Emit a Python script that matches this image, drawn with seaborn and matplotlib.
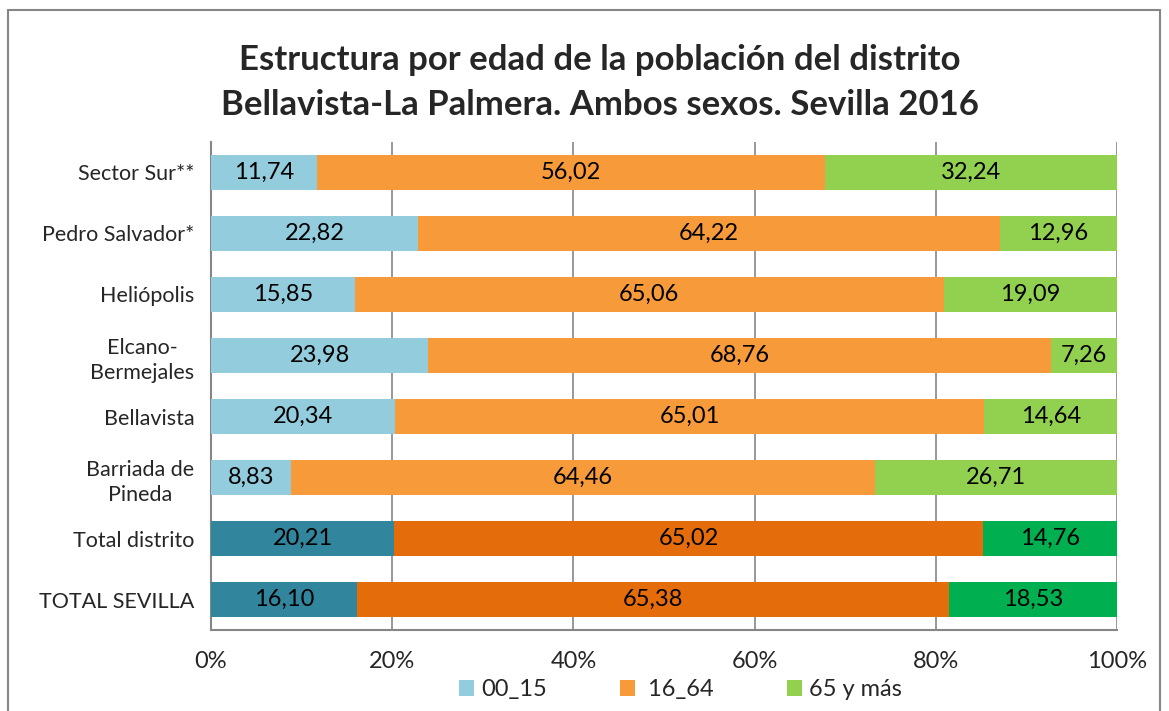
import numpy as np
import pandas as pd
import matplotlib.pyplot as plt
import seaborn as sns
from matplotlib.patches import Rectangle, Patch

plt.switch_backend('Agg')

# Data (% of population by age group)
zones = ['Sector Sur**', 'Pedro Salvador*', 'Heliópolis', 'Elcano-\nBermejales',
         'Bellavista', 'Barriada de\nPineda', 'Total distrito', 'TOTAL SEVILLA']
age_00_15 = [11.74, 22.82, 15.85, 23.98, 20.34, 8.83, 20.21, 16.10]
age_16_64 = [56.02, 64.22, 65.06, 68.76, 65.01, 64.46, 65.02, 65.38]
age_65_up = [32.24, 12.96, 19.09, 7.26, 14.64, 26.71, 14.76, 18.53]
series_names = ['00_15', ' 16_64', '65 y más']
x_ticks = [0, 20, 40, 60, 80, 100]

# light colours for neighbourhoods, dark ones for the totals
light = ['#93CDDD', '#F79A3A', '#92D050']
dark = ['#31859C', '#E46C0A', '#00B050']
is_total = [False] * 6 + [True] * 2

sns.set_theme(style="white")
plt.rcParams['font.family'] = ['Lato', 'DejaVu Sans']

df = pd.DataFrame({'zona': zones, 'a': age_00_15, 'b': age_16_64, 'c': age_65_up})
total = df['a'] + df['b'] + df['c']
df['p_a'] = df['a'] / total * 100
df['p_b'] = df['b'] / total * 100
df['p_c'] = df['c'] / total * 100
df['cum_a'] = df['p_a']
df['cum_b'] = df['p_a'] + df['p_b']
df['cum_c'] = df['cum_b'] + df['p_c']

fig = plt.figure(figsize=(11.69, 7.11), dpi=100)
ax = fig.add_axes([0.1805, 0.1139, 0.9555 - 0.1805, 0.8003 - 0.1139])

bar_h = 0.56
# stacked bars drawn back to front: full width first, then partial sums
for k, col in zip([2, 1, 0], ['cum_c', 'cum_b', 'cum_a']):
    pal = [dark[k] if t else light[k] for t in is_total]
    sns.barplot(data=df, x=col, y='zona', hue='zona', palette=pal, legend=False,
                orient='h', width=bar_h, ax=ax, saturation=1, linewidth=0, zorder=3)

# value labels centred in each segment
for i, row in df.iterrows():
    starts = [0, row['cum_a'], row['cum_b']]
    widths = [row['p_a'], row['p_b'], row['p_c']]
    vals = [row['a'], row['b'], row['c']]
    for s, w, v in zip(starts, widths, vals):
        ax.text(s + w / 2, i, f'{v:.2f}'.replace('.', ','), ha='center', va='center',
                fontsize=17, color='black', zorder=5)

ax.set_xlim(0, 100)
ax.set_ylim(len(zones) - 0.5, -0.5)
ax.set_xticks(x_ticks)
ax.set_xticklabels([f'{t}%' for t in x_ticks], fontsize=17)
ax.set_xlabel('')
ax.set_ylabel('')

# category tick labels between boundary ticks
ax.set_yticks(np.arange(len(zones)))
ax.set_yticklabels(zones, fontsize=15.5, multialignment='center', linespacing=1.35)
ax.set_yticks(np.arange(len(zones) + 1) - 0.5, minor=True)
ax.tick_params(axis='y', which='major', length=0, pad=12)
ax.tick_params(axis='y', which='minor', length=7, width=1.2, color='#868686', direction='out')
ax.tick_params(axis='x', length=7, width=1.2, color='#868686', direction='out', pad=8)

ax.grid(axis='x', color='#868686', linewidth=1.2, zorder=0)
ax.set_axisbelow(True)
for side in ['top', 'right']:
    ax.spines[side].set_visible(False)
for side in ['left', 'bottom']:
    ax.spines[side].set_color('#868686')
    ax.spines[side].set_linewidth(1.5)

fig.text(0.513, 0.884, 'Estructura por edad de la población del distrito\nBellavista-La Palmera. Ambos sexos. Sevilla 2016',
         ha='center', va='center', fontsize=25, fontweight='bold', linespacing=1.5)

handles = [Patch(facecolor=c, edgecolor='none') for c in light]
fig.legend(handles, series_names, loc='center', bbox_to_anchor=(0.582, 0.030), ncol=3,
           frameon=False, fontsize=17, handlelength=0.64, handleheight=0.64,
           handletextpad=0.3, columnspacing=3.1)

# outer chart frame
fig.patches.append(Rectangle((8 / 1169, -0.05), (1160 - 8) / 1169, 1.05 - 10 / 711,
                             transform=fig.transFigure, fill=False,
                             edgecolor='#868686', linewidth=1.5))

fig.savefig('out.png', dpi=100)
plt.close('all')
